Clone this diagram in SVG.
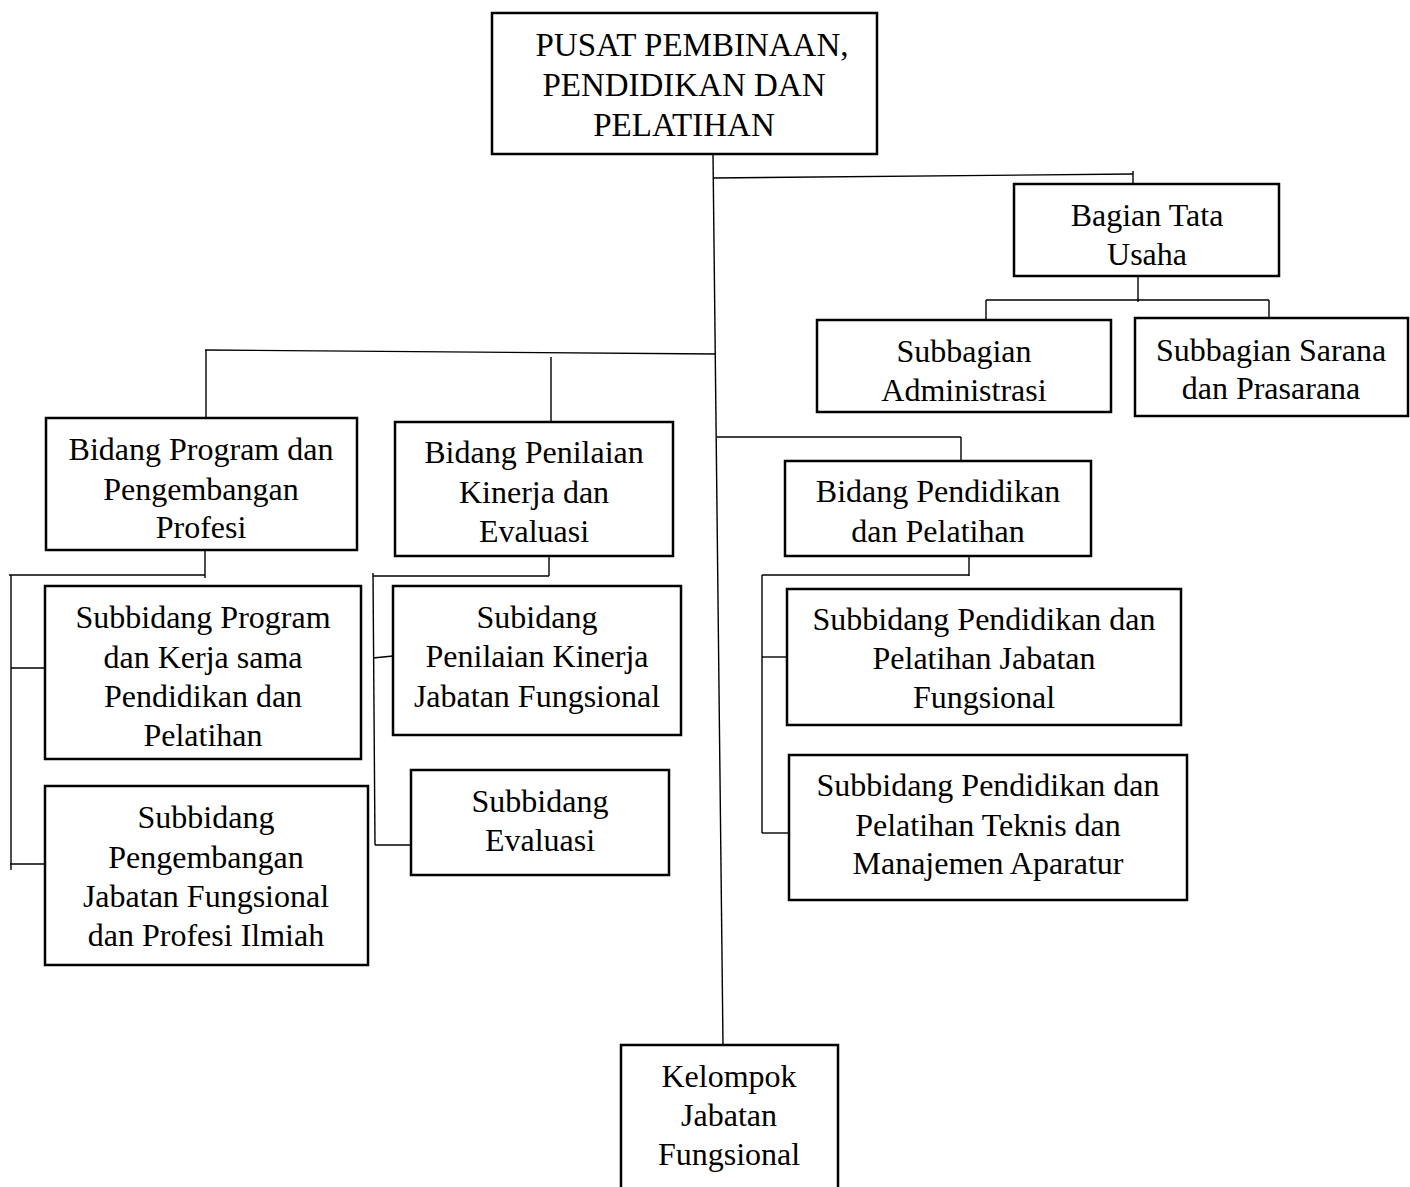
<svg xmlns="http://www.w3.org/2000/svg" width="1410" height="1187" viewBox="0 0 1410 1187">
<style>
.box{fill:#fff;stroke:#000;stroke-width:2.5}
.t{font-family:"Liberation Serif","Times New Roman",serif;font-size:32px;fill:#000;text-anchor:middle}
.big{font-size:33px}
.c{stroke:#000;stroke-width:1.4;fill:none}
</style>
<rect width="1410" height="1187" fill="#fff"/>
<g id="connectors">
<line class="c" x1="713" y1="154" x2="723" y2="1045"/>
<polyline class="c" points="713,178 1133,174"/>
<line class="c" x1="1133" y1="171" x2="1133" y2="185"/>
<line class="c" x1="1138" y1="276" x2="1138" y2="302"/>
<line class="c" x1="986" y1="300" x2="1269" y2="300"/>
<line class="c" x1="986" y1="300" x2="986" y2="321"/>
<line class="c" x1="1269" y1="300" x2="1269" y2="323"/>
<line class="c" x1="205" y1="350" x2="716" y2="354"/>
<line class="c" x1="206" y1="350" x2="206" y2="418"/>
<line class="c" x1="551" y1="357" x2="551" y2="423"/>
<line class="c" x1="717" y1="437" x2="961" y2="437"/>
<line class="c" x1="961" y1="437" x2="961" y2="462"/>
<line class="c" x1="205" y1="550" x2="205" y2="578"/>
<line class="c" x1="9" y1="575" x2="205" y2="575"/>
<line class="c" x1="11" y1="575" x2="11" y2="870"/>
<line class="c" x1="11" y1="668" x2="45" y2="668"/>
<line class="c" x1="10" y1="864" x2="53" y2="864"/>
<line class="c" x1="549" y1="556" x2="549" y2="576"/>
<line class="c" x1="373" y1="576" x2="549" y2="576"/>
<line class="c" x1="373" y1="573" x2="375" y2="845"/>
<line class="c" x1="373" y1="658" x2="393" y2="656"/>
<line class="c" x1="375" y1="845" x2="411" y2="845"/>
<line class="c" x1="969" y1="556" x2="969" y2="576"/>
<line class="c" x1="762" y1="575" x2="969" y2="575"/>
<line class="c" x1="762" y1="575" x2="762" y2="833"/>
<line class="c" x1="762" y1="657" x2="790" y2="657"/>
<line class="c" x1="762" y1="833" x2="793" y2="833"/>
</g>
<g id="pusat">
<rect class="box" x="492" y="13" width="385" height="141"/>
<text class="t big"><tspan x="692" y="56">PUSAT PEMBINAAN,</tspan><tspan x="684" y="96">PENDIDIKAN DAN</tspan><tspan x="684" y="136">PELATIHAN</tspan></text>
</g>
<g id="tatausaha">
<rect class="box" x="1014" y="184" width="265" height="92"/>
<text class="t"><tspan x="1147" y="226">Bagian Tata</tspan><tspan x="1147" y="265">Usaha</tspan></text>
</g>
<g id="administrasi">
<rect class="box" x="817" y="320" width="294" height="92"/>
<text class="t"><tspan x="964" y="362">Subbagian</tspan><tspan x="964" y="401">Administrasi</tspan></text>
</g>
<g id="sarana">
<rect class="box" x="1135" y="318" width="273" height="98"/>
<text class="t"><tspan x="1271" y="361">Subbagian Sarana</tspan><tspan x="1271" y="399">dan Prasarana</tspan></text>
</g>
<g id="bidangprogram">
<rect class="box" x="46" y="418" width="311" height="132"/>
<text class="t"><tspan x="201" y="460">Bidang Program dan</tspan><tspan x="201" y="500">Pengembangan</tspan><tspan x="201" y="538">Profesi</tspan></text>
</g>
<g id="bidangpenilaian">
<rect class="box" x="395" y="422" width="278" height="134"/>
<text class="t"><tspan x="534" y="463">Bidang Penilaian</tspan><tspan x="534" y="503">Kinerja dan</tspan><tspan x="534" y="542">Evaluasi</tspan></text>
</g>
<g id="bidangpendidikan">
<rect class="box" x="785" y="461" width="306" height="95"/>
<text class="t"><tspan x="938" y="502">Bidang Pendidikan</tspan><tspan x="938" y="542">dan Pelatihan</tspan></text>
</g>
<g id="subprogram">
<rect class="box" x="45" y="586" width="316" height="173"/>
<text class="t"><tspan x="203" y="628">Subbidang Program</tspan><tspan x="203" y="668">dan Kerja sama</tspan><tspan x="203" y="707">Pendidikan dan</tspan><tspan x="203" y="746">Pelatihan</tspan></text>
</g>
<g id="subpengembangan">
<rect class="box" x="45" y="786" width="323" height="179"/>
<text class="t"><tspan x="206" y="828">Subbidang</tspan><tspan x="206" y="868">Pengembangan</tspan><tspan x="206" y="907">Jabatan Fungsional</tspan><tspan x="206" y="946">dan Profesi Ilmiah</tspan></text>
</g>
<g id="subpenilaian">
<rect class="box" x="393" y="586" width="288" height="149"/>
<text class="t"><tspan x="537" y="628">Subidang</tspan><tspan x="537" y="667">Penilaian Kinerja</tspan><tspan x="537" y="707">Jabatan Fungsional</tspan></text>
</g>
<g id="subevaluasi">
<rect class="box" x="411" y="770" width="258" height="105"/>
<text class="t"><tspan x="540" y="812">Subbidang</tspan><tspan x="540" y="851">Evaluasi</tspan></text>
</g>
<g id="subdiklatjf">
<rect class="box" x="787" y="589" width="394" height="136"/>
<text class="t"><tspan x="984" y="630">Subbidang Pendidikan dan</tspan><tspan x="984" y="669">Pelatihan Jabatan</tspan><tspan x="984" y="708">Fungsional</tspan></text>
</g>
<g id="subdiklatteknis">
<rect class="box" x="789" y="755" width="398" height="145"/>
<text class="t"><tspan x="988" y="796">Subbidang Pendidikan dan</tspan><tspan x="988" y="836">Pelatihan Teknis dan</tspan><tspan x="988" y="874">Manajemen Aparatur</tspan></text>
</g>
<g id="kelompok">
<rect class="box" x="621" y="1045" width="217" height="150"/>
<text class="t"><tspan x="729" y="1087">Kelompok</tspan><tspan x="729" y="1126">Jabatan</tspan><tspan x="729" y="1165">Fungsional</tspan></text>
</g>
</svg>
